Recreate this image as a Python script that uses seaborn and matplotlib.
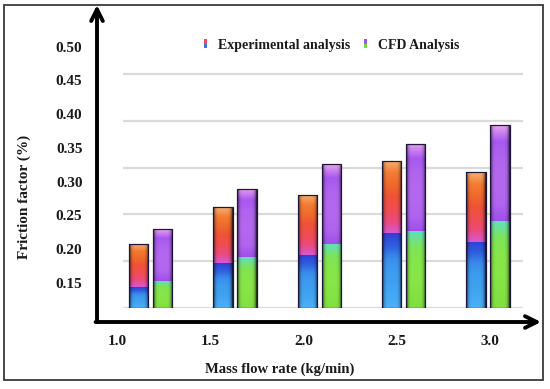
import numpy as np
import pandas as pd
import matplotlib
matplotlib.use("Agg")
import matplotlib.pyplot as plt
import seaborn as sns
from matplotlib.colors import LinearSegmentedColormap, to_rgb
from matplotlib.legend_handler import HandlerBase
from matplotlib.patches import Rectangle

# ---------------- data ----------------
flow_rates = [1.0, 1.5, 2.0, 2.5, 3.0]
series = ["Experimental analysis", "CFD Analysis"]
exp_total = [0.208, 0.262, 0.280, 0.331, 0.314]
exp_lower = [0.144, 0.179, 0.191, 0.223, 0.211]
cfd_total = [0.229, 0.289, 0.326, 0.356, 0.384]
cfd_lower = [0.152, 0.188, 0.208, 0.226, 0.242]
y_ticks = [0.15, 0.20, 0.25, 0.30, 0.35, 0.40, 0.45, 0.50]

# ---------------- styles ----------------
W, H, DPI = 550, 389, 100
FONT = "Liberation Serif"
upper_cols = {"Experimental analysis": "#f04858", "CFD Analysis": "#b464f0"}
lower_cols = {"Experimental analysis": "#40a0f0", "CFD Analysis": "#84e444"}
grad_upper = {
    "Experimental analysis": ["#d858d0", "#ec4a78", "#f04e50", "#f05238", "#f06a2c", "#f47c34", "#f8b070"],
    "CFD Analysis": ["#a050e8", "#b064f0", "#b468f0", "#b468f0", "#b064f0", "#a858f0", "#e8a0f0"],
}
grad_lower = {
    "Experimental analysis": ["#4cb0f8", "#44a8f4", "#40a0f0", "#3e9cf0", "#3a8cec", "#3060e0", "#3040d4"],
    "CFD Analysis": ["#80e040", "#84e444", "#88e648", "#86e64a", "#7ee458", "#60e0c0"],
}

df = pd.DataFrame({
    "flow": [f"{f:.1f}" for f in flow_rates] * 2,
    "series": [series[0]] * 5 + [series[1]] * 5,
    "total": exp_total + cfd_total,
    "lower": exp_lower + cfd_lower,
})

sns.set_theme(style="white")
plt.rcParams["font.family"] = [FONT, "DejaVu Serif"]
plt.rcParams["font.weight"] = "bold"

fig = plt.figure(figsize=(W / DPI, H / DPI), dpi=DPI)

def fx(px):
    return px / W

def fy(py):
    return 1 - py / H

# pixel geometry of the plotting region
ax_l, ax_r, ax_t, ax_b = 97, 542, 5, 307.7
px_per_unit = 674.3
y_lo = 0.15 - (ax_b - 282.7) / px_per_unit
y_hi = y_lo + (ax_b - ax_t) / px_per_unit

# grid overlay axes (grid spacing independent of labels, as in the reference)
grid_px = 46.7
axg = fig.add_axes([fx(123), fy(ax_b), fx(523) - fx(123), (ax_b - ax_t) / H], zorder=0)
axg.set_ylim(0, (ax_b - ax_t) / grid_px)
axg.set_yticks(range(6))
axg.yaxis.grid(True, color="#dadada", lw=1.6)
axg.set_xticks([])
axg.tick_params(left=False, labelleft=False)
for s in axg.spines.values():
    s.set_visible(False)
axg.patch.set_visible(False)

# main axes
ax = fig.add_axes([fx(ax_l), fy(ax_b), fx(ax_r) - fx(ax_l), (ax_b - ax_t) / H], zorder=2)
ax.patch.set_visible(False)

common = dict(x="flow", hue="series", hue_order=series, width=0.568, gap=0.19,
              ax=ax, legend=False, saturation=1, edgecolor="none")
sns.barplot(data=df, y="total", palette=upper_cols, **common)
n_upper = len(ax.patches)
sns.barplot(data=df, y="lower", palette=lower_cols, **common)

grp_px = 84.5
x_lo = -(150.5 - ax_l) / grp_px
x_hi = 4 + (ax_r - 488) / grp_px

# gradient (cylinder-like) shading of each bar segment
def shaded_image(colors, nrow=64, ncol=24):
    cmap = LinearSegmentedColormap.from_list("g", colors)
    v = cmap(np.linspace(0, 1, nrow))[:, :3]
    t = np.linspace(0, 1, ncol)
    shade = 1 - 0.8 * np.abs(2 * t - 1) ** 6
    img = v[:, None, :] * shade[None, :, None]
    return np.clip(img, 0, 1)

def series_of(patch, lookup):
    fc = patch.get_facecolor()[:3]
    for k, c in lookup.items():
        if np.allclose(fc, to_rgb(c), atol=0.01):
            return k
    return None

uppers = ax.patches[:n_upper]
lowers = ax.patches[n_upper:]
for lp in lowers:
    s = series_of(lp, lower_cols)
    bx0, bx1 = lp.get_x(), lp.get_x() + lp.get_width()
    l_top = lp.get_y() + lp.get_height()
    up = [u for u in uppers if abs(u.get_x() - bx0) < 1e-6][0]
    u_top = up.get_y() + up.get_height()
    im = ax.imshow(shaded_image(grad_upper[s]), extent=[bx0, bx1, l_top, u_top],
                   aspect="auto", origin="lower", zorder=3, interpolation="bilinear")
    im.set_clip_path(up)
    im2 = ax.imshow(shaded_image(grad_lower[s]), extent=[bx0, bx1, y_lo, l_top],
                    aspect="auto", origin="lower", zorder=3.1, interpolation="bilinear")
    im2.set_clip_path(lp)
    # dark outline
    ax.add_patch(Rectangle((bx0, y_lo), bx1 - bx0, u_top - y_lo, fill=False,
                           edgecolor="#20183a", lw=0.9, zorder=4))

ax.set_xlim(x_lo, x_hi)
ax.set_ylim(y_lo, y_hi)
ax.set_xticks([])
ax.set_xlabel("")
ax.set_yticks(y_ticks)
ax.set_yticklabels([f"{v:.2f}" for v in y_ticks], fontsize=11, fontweight="bold",
                   family=FONT, color="#1a1a1a")
ax.tick_params(axis="y", length=0, pad=10.5)
ax.set_ylabel("Friction factor (%)", fontsize=11, fontweight="bold", family=FONT,
              color="#1a1a1a", va="center")
ax.yaxis.set_label_coords((24 - ax_l) / (ax_r - ax_l), (ax_b - 196.5) / (ax_b - ax_t))
for s in ax.spines.values():
    s.set_visible(False)

# x tick labels sit on their own scale (offset from bar groups as in the reference)
axl = ax.twiny()
px_per_flow = (490 - 117) / 2.0
axl.set_xlim(1.0 - (117 - ax_l) / px_per_flow, 3.0 + (ax_r - 490) / px_per_flow)
axl.set_xticks(flow_rates)
axl.set_xticklabels([f"{v:.1f}" for v in flow_rates], fontsize=11, fontweight="bold",
                    family=FONT, color="#1a1a1a")
axl.xaxis.set_ticks_position("bottom")
axl.tick_params(axis="x", length=0, pad=20)
axl.set_xlabel("Mass flow rate (kg/min)", fontsize=10.5, fontweight="bold", family=FONT,
               color="#1a1a1a", va="center")
axl.xaxis.set_label_position("bottom")
axl.xaxis.set_label_coords((280 - ax_l) / (ax_r - ax_l), (ax_b - 363) / (ax_b - ax_t))
for s in axl.spines.values():
    s.set_visible(False)

# axis arrows
arrow = dict(arrowstyle="->,head_length=0.7,head_width=0.35", lw=2.8, color="black",
             shrinkA=0, shrinkB=0)
ax.annotate("", xy=(ax_l, H - 5), xytext=(ax_l, H - 322), xycoords="figure pixels",
            textcoords="figure pixels", arrowprops=arrow, annotation_clip=False)
ax.annotate("", xy=(ax_r - 1, H - 322), xytext=(ax_l - 1.4, H - 322), xycoords="figure pixels",
            textcoords="figure pixels", arrowprops=arrow, annotation_clip=False)

# legend with two-tone markers
class TwoTone(HandlerBase):
    def __init__(self, top, bot):
        super().__init__()
        self.top, self.bot = top, bot

    def create_artists(self, legend, orig_handle, xdescent, ydescent, width, height,
                       fontsize, trans):
        w = width * 0.7
        x0 = -xdescent + (width - w) / 2
        y0 = -ydescent - height * 0.05
        h = height * 1.1
        r1 = Rectangle((x0, y0), w, h / 2, facecolor=self.bot, edgecolor="none", transform=trans)
        r2 = Rectangle((x0, y0 + h / 2), w, h / 2, facecolor=self.top, edgecolor="none",
                       transform=trans)
        return [r1, r2]

h1 = Rectangle((0, 0), 1, 1)
h2 = Rectangle((0, 0), 1, 1)
leg = ax.legend([h1, h2], series,
                handler_map={h1: TwoTone("#f04858", "#3a70e8"), h2: TwoTone("#a050f0", "#70e040")},
                loc="center left", bbox_to_anchor=(fx(203), fy(45)), bbox_transform=fig.transFigure,
                ncol=2, frameon=False, handlelength=0.35, handleheight=0.5, handletextpad=0.75,
                columnspacing=0.9, borderpad=0, borderaxespad=0,
                prop=dict(family=FONT, weight="bold", size=10))
for t in leg.get_texts():
    t.set_color("#1a1a1a")

# outer frame of the picture
fig.patches.append(Rectangle((fx(4), fy(380)), fx(543) - fx(4), fy(5) - fy(380), fill=False,
                             edgecolor="#3a3a3a", lw=1.3, transform=fig.transFigure, figure=fig))

fig.savefig("out.png", dpi=DPI)
